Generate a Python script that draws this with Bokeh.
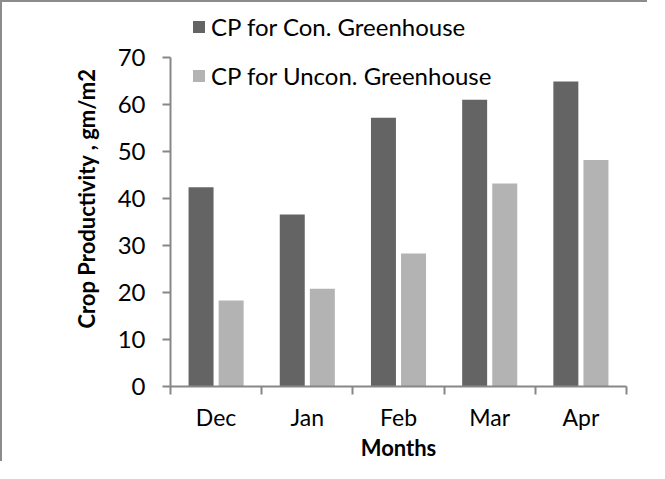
import numpy as np
from bokeh.plotting import figure
from bokeh.models import ColumnDataSource, FixedTicker, Legend, LegendItem, Range1d
from bokeh.embed import file_html
from bokeh.resources import INLINE

months = ["Dec", "Jan", "Feb", "Mar", "Apr"]
cp_con = [42.4, 36.6, 57.2, 61.0, 64.9]
cp_uncon = [18.3, 20.8, 28.3, 43.2, 48.2]
y_ticks = [0, 10, 20, 30, 40, 50, 60, 70]

DARK = "#646464"
LIGHT = "#b3b3b3"
AXIS = "#878787"
FONT = "Lato"

idx = np.arange(len(months))
src = ColumnDataSource(dict(
    x_con=idx + 0.5 - 0.165,
    x_uncon=idx + 0.5 + 0.165,
    con=cp_con,
    uncon=cp_uncon,
))

p = figure(width=647, height=461, output_backend="svg", toolbar_location=None,
           x_range=Range1d(0, len(months)), y_range=Range1d(0, 80),
           min_border_left=168, min_border_right=23, min_border_top=8, min_border_bottom=69)
p.styles = {"border-left": "2px solid #8c8c8c", "border-top": "2px solid #8c8c8c"}
p.outline_line_color = None
p.xgrid.grid_line_color = None
p.ygrid.grid_line_color = None

r1 = p.vbar(x="x_con", top="con", width=0.274, bottom=0, source=src,
            fill_color=DARK, line_color=None)
r2 = p.vbar(x="x_uncon", top="uncon", width=0.274, bottom=0, source=src,
            fill_color=LIGHT, line_color=None)

# x axis: ticks at category boundaries, labels at centres
xa = p.xaxis[0]
xa.ticker = FixedTicker(ticks=list(idx + 0.5), minor_ticks=list(range(len(months) + 1)))
xa.major_label_overrides = {float(i + 0.5): m for i, m in enumerate(months)}
xa.major_tick_out = 0
xa.major_tick_in = 0
xa.minor_tick_out = 8
xa.minor_tick_in = 0
xa.minor_tick_line_color = AXIS
xa.minor_tick_line_width = 2
xa.axis_line_color = AXIS
xa.axis_line_width = 2
xa.major_label_text_font = FONT
xa.major_label_text_font_size = "23px"
xa.major_label_text_color = "#000000"
xa.major_label_standoff = 8
xa.axis_label = "Months"
xa.axis_label_text_font = FONT
xa.axis_label_text_font_style = "bold"
xa.axis_label_text_font_size = "22px"
xa.axis_label_text_color = "#000000"
xa.axis_label_standoff = 0

ya = p.yaxis[0]
ya.ticker = FixedTicker(ticks=y_ticks, minor_ticks=[])
ya.bounds = (0, 70)
ya.major_tick_out = 8
ya.major_tick_in = 0
ya.major_tick_line_color = AXIS
ya.major_tick_line_width = 2
ya.axis_line_color = AXIS
ya.axis_line_width = 2
ya.major_label_text_font = FONT
ya.major_label_text_font_size = "24px"
ya.major_label_text_color = "#000000"
ya.major_label_standoff = 17
ya.axis_label = "Crop Productivity , gm/m2"
ya.axis_label_text_font = FONT
ya.axis_label_text_font_style = "bold"
ya.axis_label_text_font_size = "22px"
ya.axis_label_text_color = "#000000"
ya.axis_label_standoff = 15

legend = Legend(items=[LegendItem(label="CP for Con. Greenhouse", renderers=[r1]),
                       LegendItem(label="CP for Uncon. Greenhouse", renderers=[r2])],
                location=(21, 296), orientation="vertical")
legend.padding = 0
legend.margin = 0
legend.spacing = 19
legend.glyph_width = 15
legend.glyph_height = 15
legend.label_height = 30
legend.label_standoff = 5
legend.label_text_font = FONT
legend.label_text_font_size = "24px"
legend.label_text_color = "#000000"
legend.label_text_baseline = "middle"
legend.border_line_color = None
legend.background_fill_alpha = 0
p.add_layout(legend, "center")

open("out.html", "w").write(file_html(p, INLINE))
